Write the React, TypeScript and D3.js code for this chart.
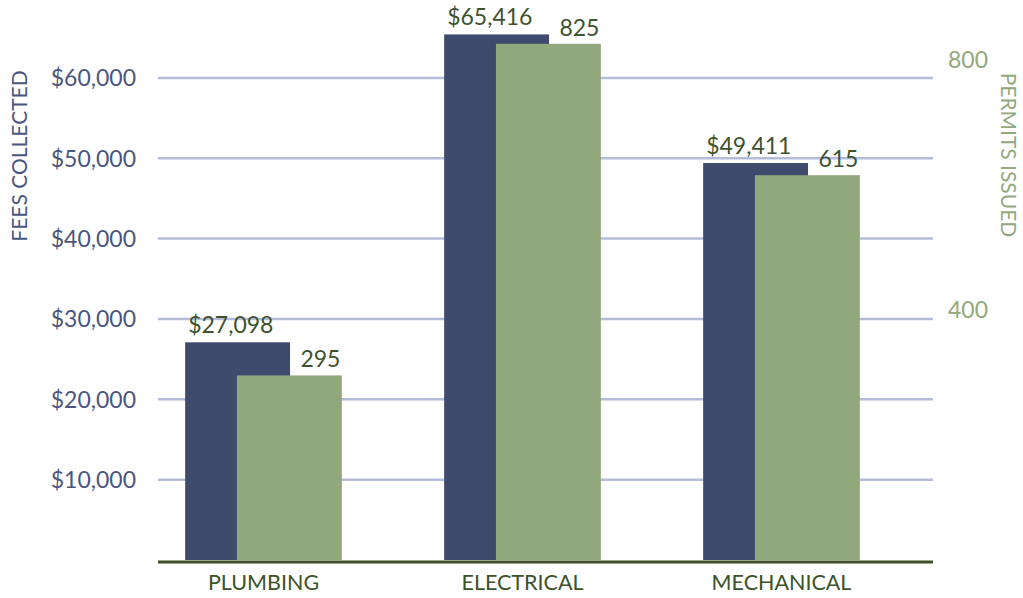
import React from "react"
import * as d3 from "d3"

// permit fees vs permits issued, by trade
const categories = ["PLUMBING", "ELECTRICAL", "MECHANICAL"]
const feesCollected = [27098, 65416, 49411]
const permitsIssued = [295, 825, 615]
const feeTicks = [10000, 20000, 30000, 40000, 50000, 60000]
const permitTicks = [400, 800]

const W = 1023
const H = 598
const FONT = "Lato, 'Open Sans', sans-serif"

export default function App() {
  const x = d3.scaleBand().domain(categories).range([134, 911])
  const yFees = d3.scaleLinear().domain([0, 69700]).range([560, 0])
  const yPermits = d3.scaleLinear().domain([0, 895]).range([560, 0])

  const bw = x.bandwidth()
  const barW = bw * 0.405
  const shift = bw * 0.1
  const fmtMoney = (v: number) => "$" + d3.format(",")(v)

  return (
    <svg width={W} height={H} style={{ position: "absolute", left: 0, top: 0 }} fontFamily={FONT}>
      <rect width={W} height={H} fill="#ffffff" />

      {/* gridlines */}
      {feeTicks.map(t => (
        <line key={t} x1={158} x2={933} y1={yFees(t)} y2={yFees(t)} stroke="#b4bcda" strokeWidth={2.5} />
      ))}

      {/* left axis labels */}
      {feeTicks.map(t => (
        <text key={t} x={136} y={yFees(t)} dy="0.36em" textAnchor="end" fontSize={23} fill="#4b5680">
          {fmtMoney(t)}
        </text>
      ))}
      <text transform="translate(27,156) rotate(-90)" textAnchor="middle" fontSize={21} fill="#4b5680">
        FEES COLLECTED
      </text>

      {/* right axis labels */}
      {permitTicks.map(t => (
        <text key={t} x={948} y={yPermits(t)} dy="0.36em" fontSize={23} fill="#93a87c">
          {t}
        </text>
      ))}
      <text transform="translate(1001,155) rotate(90)" textAnchor="middle" fontSize={21} fill="#93a87c">
        PERMITS ISSUED
      </text>

      {/* bars */}
      {categories.map((c, i) => {
        const cx = (x(c) ?? 0) + bw / 2
        const bx = cx - shift - barW / 2
        const gx = cx + shift - barW / 2
        return (
          <g key={c}>
            <rect x={bx} y={yFees(feesCollected[i])} width={barW} height={yFees(0) - yFees(feesCollected[i])} fill="#3e4b6d" />
            <rect x={gx} y={yPermits(permitsIssued[i])} width={barW} height={yPermits(0) - yPermits(permitsIssued[i])} fill="#91a77c" />
            <text x={bx + 3} y={yFees(feesCollected[i]) - 9} fontSize={23} fill="#3e5230">
              {fmtMoney(feesCollected[i])}
            </text>
            <text x={gx + barW / 2 + 11} y={yPermits(permitsIssued[i]) - 8} fontSize={23} fill="#3e5230">
              {permitsIssued[i]}
            </text>
            <text x={cx} y={590} textAnchor="middle" fontSize={21.5} fill="#3d5229">
              {c}
            </text>
          </g>
        )
      })}

      {/* baseline */}
      <line x1={158} x2={933} y1={562} y2={562} stroke="#3d4f25" strokeWidth={3} />
    </svg>
  )
}
